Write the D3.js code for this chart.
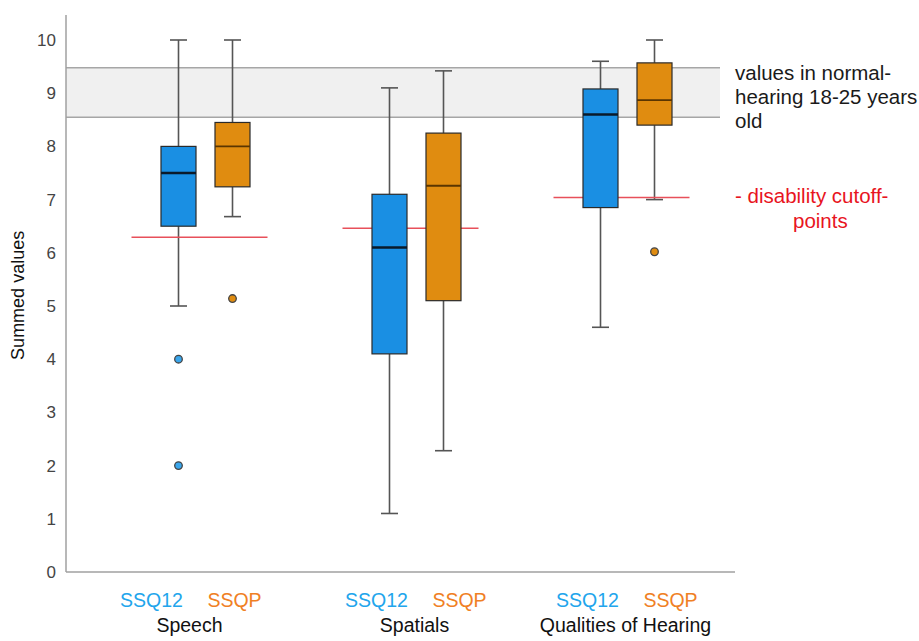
<!DOCTYPE html>
<html>
<head>
<meta charset="utf-8">
<script src="https://cdn.jsdelivr.net/npm/d3@7/dist/d3.min.js"></script>
<style>
  html, body { margin: 0; padding: 0; background: #fff; }
  svg { display: block; font-family: "Liberation Sans", Arial, sans-serif; }
</style>
</head>
<body>
<svg id="chart" width="919" height="641"></svg>
<script>
// ---------- data ----------
const categories = ["Speech", "Spatials", "Qualities of Hearing"];
const seriesNames = ["SSQ12", "SSQP"];

const ssq12Min    = [5.0, 1.1, 4.6];
const ssq12Q1     = [6.5, 4.1, 6.85];
const ssq12Median = [7.5, 6.1, 8.6];
const ssq12Q3     = [8.0, 7.1, 9.08];
const ssq12Max    = [10.0, 9.1, 9.6];
const ssq12Outliers = [[4.0, 2.0], [], []];

const ssqpMin    = [6.68, 2.28, 7.0];
const ssqpQ1     = [7.24, 5.1, 8.4];
const ssqpMedian = [8.0, 7.26, 8.87];
const ssqpQ3     = [8.45, 8.25, 9.57];
const ssqpMax    = [10.0, 9.42, 10.0];
const ssqpOutliers = [[5.14], [], [6.02]];

const cutoffs = [6.29, 6.46, 7.04];
const normalBand = [8.55, 9.48];
const yTicks = [0, 1, 2, 3, 4, 5, 6, 7, 8, 9, 10];

// ---------- layout ----------
const svg = d3.select("#chart");
const axisX0 = 66, axisX1 = 735, axisY = 572;

const y = d3.scaleLinear().domain([0, 10]).range([572, 40]);
const x = d3.scaleBand().domain(categories).range([100, 733]).padding(0);
const sub = d3.scalePoint().domain(seriesNames).range([-27, 27]);

const colors = { SSQ12: "#1a8fe3", SSQP: "#e08c10" };
const outlierColors = { SSQ12: "#3aa6ec", SSQP: "#e08c10" };
const labelColors = { SSQ12: "#22a5ec", SSQP: "#f08024" };
const medianColors = { SSQ12: "#0a1a2a", SSQP: "#5a3500" };
const medianWidths = { SSQ12: 2.6, SSQP: 1.8 };

const boxes = [];
categories.forEach((c, i) => {
  boxes.push({cat: c, s: "SSQ12", min: ssq12Min[i], q1: ssq12Q1[i], med: ssq12Median[i], q3: ssq12Q3[i], max: ssq12Max[i], out: ssq12Outliers[i]});
  boxes.push({cat: c, s: "SSQP", min: ssqpMin[i], q1: ssqpQ1[i], med: ssqpMedian[i], q3: ssqpQ3[i], max: ssqpMax[i], out: ssqpOutliers[i]});
});
const cx = d => x(d.cat) + x.bandwidth() / 2 + sub(d.s);
const boxW = 35, capW = 17;

// normal band
svg.append("rect")
  .attr("x", axisX0).attr("width", 720 - axisX0)
  .attr("y", y(normalBand[1])).attr("height", y(normalBand[0]) - y(normalBand[1]))
  .attr("fill", "#f0f0f0");
normalBand.forEach(v => {
  svg.append("line").attr("x1", axisX0).attr("x2", 720)
    .attr("y1", y(v)).attr("y2", y(v))
    .attr("stroke", "#a6a6a6").attr("stroke-width", 1.5);
});

// axes
const yAxis = d3.axisLeft(y).tickValues(yTicks).tickSize(0).tickPadding(10).tickFormat(d3.format("d"));
const gy = svg.append("g").attr("transform", `translate(${axisX0},0)`).call(yAxis);
gy.select(".domain").remove();
gy.selectAll("text").attr("font-size", 17).attr("fill", "#444").attr("font-family", "Liberation Sans, Arial, sans-serif");
svg.append("line").attr("x1", axisX0).attr("x2", axisX0).attr("y1", 15).attr("y2", axisY)
  .attr("stroke", "#a0a0a0").attr("stroke-width", 1.5);
svg.append("line").attr("x1", axisX0).attr("x2", axisX1).attr("y1", axisY).attr("y2", axisY)
  .attr("stroke", "#a0a0a0").attr("stroke-width", 1.5);

svg.append("text")
  .attr("transform", `translate(24,${y(5.2)}) rotate(-90)`)
  .attr("text-anchor", "middle").attr("font-size", 18).attr("fill", "#111")
  .text("Summed values");

// whiskers
const g = svg.append("g");
boxes.forEach(d => {
  const xc = cx(d);
  g.append("line").attr("x1", xc).attr("x2", xc).attr("y1", y(d.max)).attr("y2", y(d.q3))
    .attr("stroke", "#555").attr("stroke-width", 1.6);
  g.append("line").attr("x1", xc).attr("x2", xc).attr("y1", y(d.q1)).attr("y2", y(d.min))
    .attr("stroke", "#555").attr("stroke-width", 1.6);
  [d.max, d.min].forEach(v => {
    g.append("line").attr("x1", xc - capW / 2).attr("x2", xc + capW / 2).attr("y1", y(v)).attr("y2", y(v))
      .attr("stroke", "#555").attr("stroke-width", 1.6);
  });
});

// cutoff red lines (drawn under boxes)
categories.forEach((c, i) => {
  const gc = x(c) + x.bandwidth() / 2;
  svg.append("line").attr("x1", gc - 74).attr("x2", gc + 62)
    .attr("y1", y(cutoffs[i])).attr("y2", y(cutoffs[i]))
    .attr("stroke", "#e8505a").attr("stroke-width", 1.5);
});

// boxes
const gb = svg.append("g");
boxes.forEach(d => {
  const xc = cx(d);
  gb.append("rect").attr("x", xc - boxW / 2).attr("width", boxW)
    .attr("y", y(d.q3)).attr("height", y(d.q1) - y(d.q3))
    .attr("fill", colors[d.s]).attr("stroke", "#2a2a2a").attr("stroke-width", 1.2);
  gb.append("line").attr("x1", xc - boxW / 2).attr("x2", xc + boxW / 2)
    .attr("y1", y(d.med)).attr("y2", y(d.med))
    .attr("stroke", medianColors[d.s]).attr("stroke-width", medianWidths[d.s]);
  d.out.forEach(v => {
    gb.append("circle").attr("cx", xc).attr("cy", y(v)).attr("r", 3.8)
      .attr("fill", outlierColors[d.s])
      .attr("stroke", "#444").attr("stroke-width", 1.3);
  });
});

// x labels
const labelOffsets = { SSQ12: -40, SSQP: 43 };
const groupShift = [-14, 0, 0];
categories.forEach((c, i) => {
  const gc = x(c) + x.bandwidth() / 2 + groupShift[i];
  seriesNames.forEach(s => {
    svg.append("text").attr("x", gc + labelOffsets[s]).attr("y", 607)
      .attr("text-anchor", "middle").attr("font-size", 19.5).attr("fill", labelColors[s])
      .text(s);
  });
  svg.append("text").attr("x", gc - 2).attr("y", 632)
    .attr("text-anchor", "middle").attr("font-size", 19.5).attr("fill", "#111")
    .text(c);
});

// right annotations
const noteLines = ["values in normal-", "hearing 18-25 years", "old"];
noteLines.forEach((t, i) => {
  svg.append("text").attr("x", 735).attr("y", 80 + i * 24)
    .attr("font-size", 20.5).attr("fill", "#1a1a1a").text(t);
});
svg.append("text").attr("x", 735).attr("y", 203).attr("font-size", 20.5).attr("fill", "#e8141e")
  .text("- disability cutoff-");
svg.append("text").attr("x", 793).attr("y", 228).attr("font-size", 20.5).attr("fill", "#e8141e")
  .text("points");
</script>
</body>
</html>
